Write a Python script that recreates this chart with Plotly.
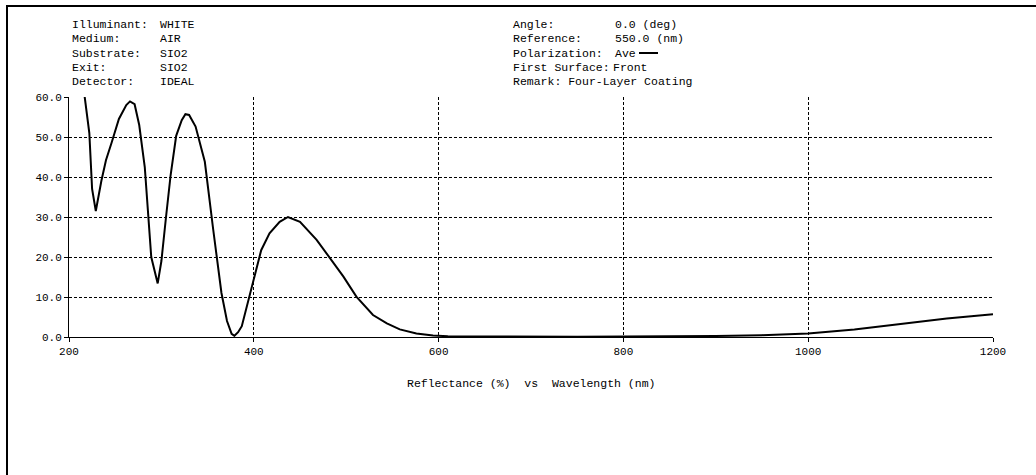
import plotly.graph_objects as go

# ---- data ----
wavelength_nm = [200, 205, 210, 217, 222, 225, 229, 235, 240, 246, 254, 262, 266, 271, 276,
                 282, 289, 296, 300, 305, 310, 316, 322, 326, 330, 337, 347, 356, 365, 371,
                 376, 379, 383, 387, 394, 401, 408, 417, 428, 437, 450, 468, 486, 497, 511,
                 529, 544, 558, 576, 594, 610, 650, 700, 750, 800, 850, 900, 950, 1000,
                 1050, 1100, 1150, 1200]
reflectance_pct = [85.0, 76.0, 69.0, 60.0, 51.0, 37.0, 31.5, 39.0, 44.2, 48.5, 54.5, 58.0, 58.9,
                   58.2, 53.0, 42.5, 20.0, 13.4, 19.0, 30.0, 40.5, 50.3, 54.2, 55.7, 55.5, 52.6,
                   43.8, 27.0, 11.0, 4.0, 0.8, 0.3, 1.2, 2.7, 9.2, 15.9, 21.7, 25.9, 28.8, 30.0,
                   28.8, 24.3, 18.4, 15.1, 10.1, 5.5, 3.4, 1.9, 0.9, 0.35, 0.2, 0.12, 0.08, 0.08,
                   0.1, 0.12, 0.25, 0.45, 0.9, 1.9, 3.2, 4.6, 5.7]
x_ticks = [200, 400, 600, 800, 1000, 1200]
y_ticks = [0, 10, 20, 30, 40, 50, 60]

left_labels = ["Illuminant:", "Medium:", "Substrate:", "Exit:", "Detector:"]
left_values = ["WHITE", "AIR", "SIO2", "SIO2", "IDEAL"]
right_labels = ["Angle:", "Reference:", "Polarization:", "First Surface:", "Remark: Four-Layer Coating"]
right_values = ["0.0 (deg)", "550.0 (nm)", "Ave", "Front", ""]
x_title = "Reflectance (%)  vs  Wavelength (nm)"

W, H = 1036, 475
L, R, T, B = 69, 43, 97, 138
PW, PH = W - L - R, H - T - B
FONT = "Liberation Mono"


def px(x):
    return (x - L) / PW


def py(y):
    return (H - B - y) / PH


fig = go.Figure()
fig.add_trace(go.Scatter(x=wavelength_nm, y=reflectance_pct, mode="lines",
                         line=dict(color="black", width=2), showlegend=False,
                         hoverinfo="skip"))

ann = []
line_y = [25, 39, 53, 67, 81]
for i, (lab, val) in enumerate(zip(left_labels, left_values)):
    ann.append(dict(x=px(70), y=py(line_y[i]), text=lab, xanchor="left", yanchor="middle"))
    ann.append(dict(x=px(158), y=py(line_y[i]), text=val, xanchor="left", yanchor="middle"))
for i, (lab, val) in enumerate(zip(right_labels, right_values)):
    ann.append(dict(x=px(511), y=py(line_y[i]), text=lab, xanchor="left", yanchor="middle"))
    if val:
        xv = 613 if i != 3 else 611
        ann.append(dict(x=px(xv), y=py(line_y[i]), text=val, xanchor="left", yanchor="middle"))
ann.append(dict(x=0.5, y=py(383), text=x_title, xanchor="center", yanchor="middle"))
for a in ann:
    a.update(xref="paper", yref="paper", showarrow=False,
             font=dict(family=FONT, size=11.5, color="black"))

shapes = [
    # legend sample next to "Ave"
    dict(type="line", xref="paper", yref="paper", x0=px(639), x1=px(658),
         y0=py(line_y[2]), y1=py(line_y[2]), line=dict(color="black", width=2)),
    # outer frame (top and left)
    dict(type="line", xref="paper", yref="paper", x0=px(6), x1=px(1036),
         y0=py(6), y1=py(6), line=dict(color="black", width=2)),
    dict(type="line", xref="paper", yref="paper", x0=px(7), x1=px(7),
         y0=py(6), y1=py(475), line=dict(color="black", width=2)),
]

axis_common = dict(showline=True, linecolor="black", linewidth=1, ticks="outside",
                   ticklen=4, tickcolor="black", showgrid=True, gridcolor="black",
                   gridwidth=1, griddash="3px,2px", zeroline=False,
                   tickfont=dict(family=FONT, size=11, color="black"))

fig.update_layout(
    width=W, height=H, margin=dict(l=L, r=R, t=T, b=B),
    paper_bgcolor="white", plot_bgcolor="white",
    xaxis=dict(range=[200, 1200], tickvals=x_ticks, **axis_common),
    yaxis=dict(range=[0, 60], tickvals=y_ticks, tickformat=".1f", **axis_common),
    annotations=ann, shapes=shapes,
)

fig.write_html("out.html", config={"displayModeBar": False},
               post_script="document.body.style.margin='0';document.body.style.overflow='hidden';")
